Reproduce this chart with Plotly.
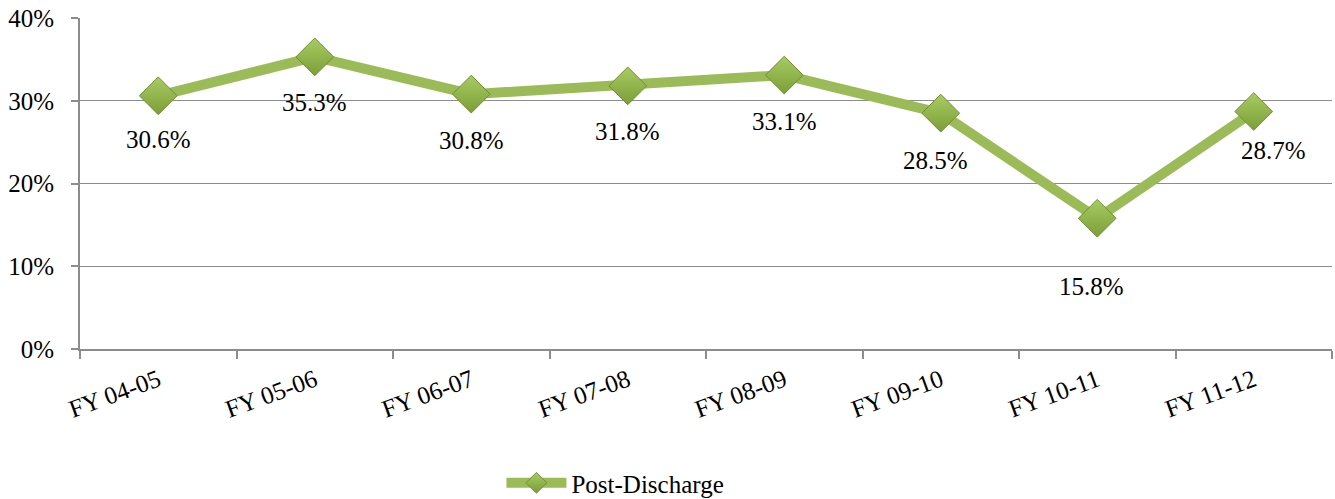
import plotly.graph_objects as go

# Post-discharge rate by fiscal year
years = ["FY 04-05", "FY 05-06", "FY 06-07", "FY 07-08",
         "FY 08-09", "FY 09-10", "FY 10-11", "FY 11-12"]
post_discharge = [30.6, 35.3, 30.8, 31.8, 33.1, 28.5, 15.8, 28.7]

# label placement relative to each point (pixels)
label_dy = [44, 46, 46, 46, 46, 47, 68, 39]
label_dx = [0, 0, 0, 0, 0, -5, -6, 20]

FONT = "Liberation Serif"
GREEN = "#9BBB59"
AXIS = "#8C8C8C"

fig = go.Figure()
fig.add_trace(go.Scatter(
    x=years, y=post_discharge,
    mode="lines+markers",
    name="Post-Discharge",
    line=dict(color=GREEN, width=10),
    marker=dict(symbol="diamond", size=29, color="#A9CB63",
                gradient=dict(type="vertical", color="#7C9E38"),
                line=dict(color="#6F8F32", width=1)),
))

for yr, v, dy, dx in zip(years, post_discharge, label_dy, label_dx):
    fig.add_annotation(x=yr, y=v, text=f"{v:.1f}%", showarrow=False,
                       yshift=-dy, xshift=dx,
                       font=dict(family=FONT, size=25, color="#000000"))

fig.update_layout(
    width=1335, height=499,
    margin=dict(l=80, r=3, t=18, b=150),
    paper_bgcolor="white", plot_bgcolor="white",
    font=dict(family=FONT, size=25, color="#000000"),
    showlegend=True,
    legend=dict(orientation="h", xref="container", yref="container",
                x=0.461, xanchor="center", y=0.032, yanchor="middle",
                font=dict(family=FONT, size=25), itemwidth=60),
)
fig.update_xaxes(
    type="category", tickson="boundaries", ticks="outside", ticklen=8,
    tickcolor=AXIS, tickwidth=2, showline=True, linecolor=AXIS, linewidth=2,
    showgrid=False, tickangle=-20, range=[-0.5, 7.5], ticklabelstandoff=5,
    tickfont=dict(family=FONT, size=25),
)
fig.update_yaxes(
    range=[0, 40], tickvals=[0, 10, 20, 30, 40],
    ticktext=["0%", "10%", "20%", "30%", "40%"],
    ticks="outside", ticklen=7, tickcolor=AXIS, tickwidth=2,
    showline=True, linecolor=AXIS, linewidth=2, ticklabelstandoff=12,
    showgrid=True, gridcolor=AXIS, gridwidth=1, zeroline=False,
    tickfont=dict(family=FONT, size=25),
)

fig.write_html("out.html")
